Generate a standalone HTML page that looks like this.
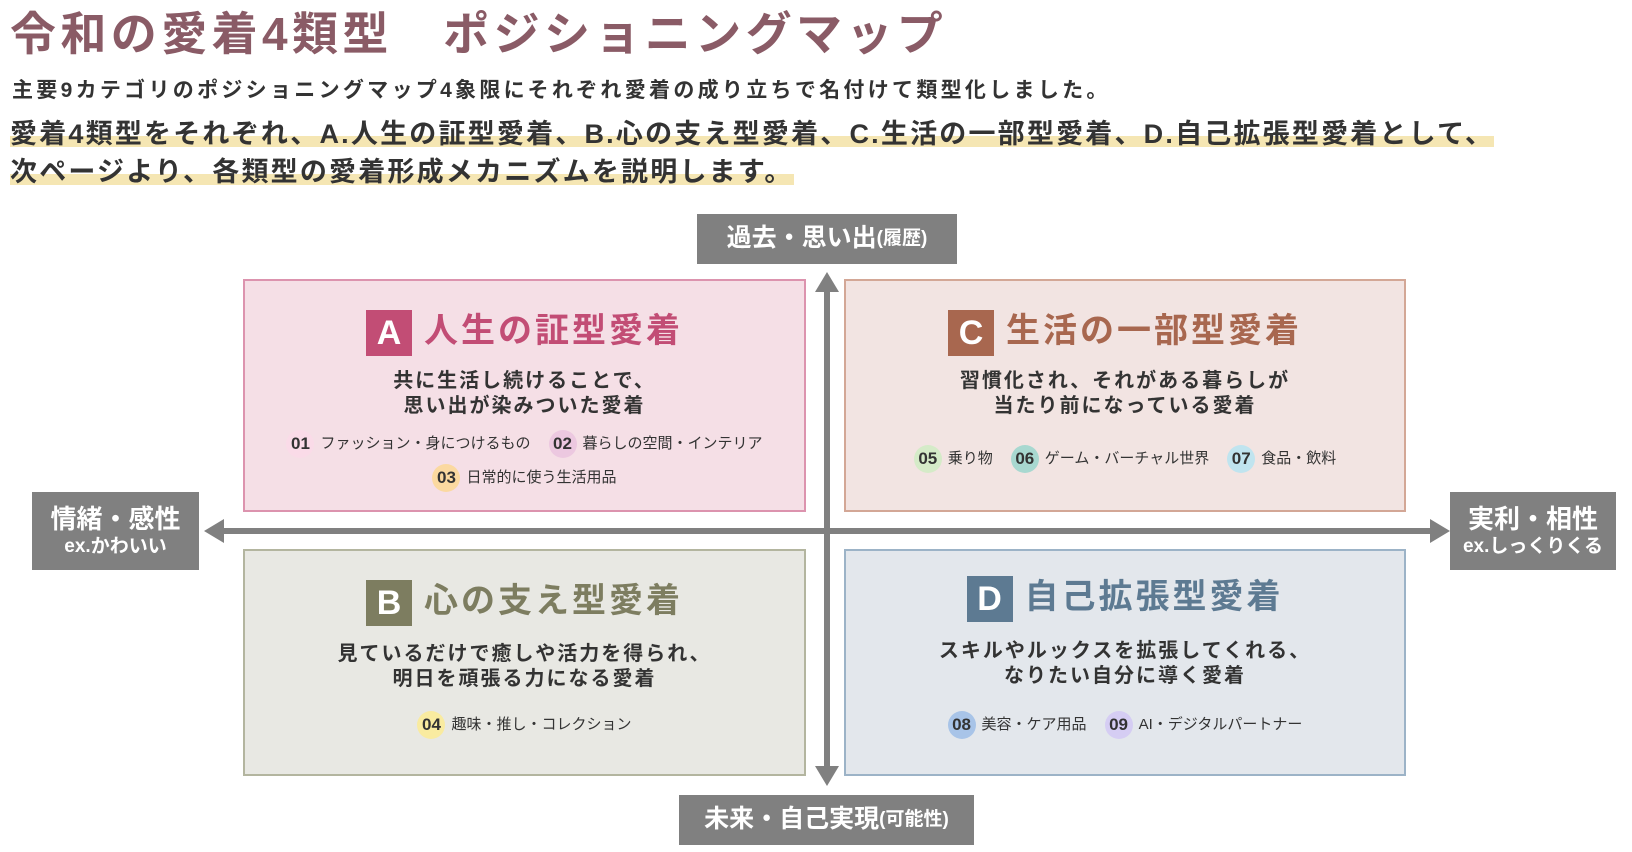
<!DOCTYPE html>
<html><head><meta charset="utf-8"><style>
body{margin:0;width:1632px;height:852px;background:#fff;position:relative;overflow:hidden;font-family:"Liberation Sans","Noto Sans CJK JP",sans-serif;color:#333}
.a{position:absolute}
.t{left:10px;top:-2px;font-size:46px;font-weight:bold;color:#8a5b66;white-space:nowrap;letter-spacing:4.4px}
.l1{left:12px;top:74px;font-size:21px;font-weight:bold;white-space:nowrap;letter-spacing:3.3px}
.hl{font-size:27px;font-weight:bold;white-space:nowrap;left:10px;letter-spacing:2.2px;background:linear-gradient(transparent 62%,#f5e6b3 62%,#f5e6b3 90%,transparent 90%)}
.lab{background:#808080;color:#fff;font-weight:bold;text-align:center;display:flex;flex-direction:column;justify-content:center;align-items:center;line-height:1.25}
.box{box-sizing:border-box;border:2px solid}
.ttl{width:100%;text-align:center;font-size:34px;font-weight:bold;white-space:nowrap;letter-spacing:3px}
.bd{display:inline-block;color:#fff;font-size:34px;width:46px;height:46px;line-height:46px;text-align:center;vertical-align:middle;margin-right:12px;letter-spacing:0}
.ds{width:100%;text-align:center;font-size:20px;font-weight:bold;line-height:25px;letter-spacing:2px}
.it{width:100%;text-align:center;font-size:15px;white-space:nowrap}
.c{display:inline-block;width:28px;height:28px;border-radius:50%;line-height:28px;text-align:center;font-size:17px;font-weight:bold;margin-right:6px;vertical-align:middle}
.g{margin-right:18px}
.sm{font-size:19px}
</style></head><body>
<div class="a t">令和の愛着4類型　ポジショニングマップ</div>
<div class="a l1">主要9カテゴリのポジショニングマップ4象限にそれぞれ愛着の成り立ちで名付けて類型化しました。</div>
<div class="a hl" style="top:112px">愛着4類型をそれぞれ、A.人生の証型愛着、B.心の支え型愛着、C.生活の一部型愛着、D.自己拡張型愛着として、</div>
<div class="a hl" style="top:150px">次ページより、各類型の愛着形成メカニズムを説明します。</div>

<svg class="a" style="left:0;top:0" width="1632" height="852">
<line x1="827" y1="290" x2="827" y2="768" stroke="#808080" stroke-width="6"/>
<polygon points="815,292 839,292 827,272" fill="#808080"/>
<polygon points="815,766 839,766 827,786" fill="#808080"/>
<line x1="222" y1="531" x2="1432" y2="531" stroke="#808080" stroke-width="6"/>
<polygon points="224,519 224,543 204,531" fill="#808080"/>
<polygon points="1430,519 1430,543 1450,531" fill="#808080"/>
</svg>

<div class="a lab" style="left:697px;top:214px;width:260px;height:50px;font-size:25px;flex-direction:row">過去・思い出<span class="sm">(履歴)</span></div>
<div class="a lab" style="left:679px;top:795px;width:295px;height:50px;font-size:25px;flex-direction:row">未来・自己実現<span class="sm">(可能性)</span></div>
<div class="a lab" style="left:32px;top:492px;width:167px;height:78px;font-size:26px">情緒・感性<span style="font-size:19px">ex.かわいい</span></div>
<div class="a lab" style="left:1450px;top:492px;width:166px;height:78px;font-size:26px">実利・相性<span style="font-size:19px">ex.しっくりくる</span></div>

<div class="a box" style="left:243px;top:279px;width:563px;height:233px;background:#f5dfe6;border-color:#dc93ae">
 <div class="a ttl" style="top:22px;color:#c24d75"><span class="bd" style="background:#c24d75">A</span>人生の証型愛着</div>
 <div class="a ds" style="top:88px">共に生活し続けることで、<br>思い出が染みついた愛着</div>
 <div class="a it" style="top:149px"><span class="c" style="background:#fadbe8">01</span><span class="g">ファッション・身につけるもの</span><span class="c" style="background:#ecc8e0">02</span>暮らしの空間・インテリア</div>
 <div class="a it" style="top:183px"><span class="c" style="background:#fbd9a0">03</span>日常的に使う生活用品</div>
</div>

<div class="a box" style="left:844px;top:279px;width:562px;height:233px;background:#f2e4e2;border-color:#d3a796">
 <div class="a ttl" style="top:22px;color:#a8674f"><span class="bd" style="background:#a8674f">C</span>生活の一部型愛着</div>
 <div class="a ds" style="top:88px">習慣化され、それがある暮らしが<br>当たり前になっている愛着</div>
 <div class="a it" style="top:164px"><span class="c" style="background:#d5ebc8">05</span><span class="g">乗り物</span><span class="c" style="background:#a8d8d0">06</span><span class="g">ゲーム・バーチャル世界</span><span class="c" style="background:#c0e4ef">07</span>食品・飲料</div>
</div>

<div class="a box" style="left:243px;top:549px;width:563px;height:227px;background:#e8e8e3;border-color:#b3b59f">
 <div class="a ttl" style="top:22px;color:#7d7d60"><span class="bd" style="background:#7d7d60">B</span>心の支え型愛着</div>
 <div class="a ds" style="top:91px">見ているだけで癒しや活力を得られ、<br>明日を頑張る力になる愛着</div>
 <div class="a it" style="top:160px"><span class="c" style="background:#f9eba0">04</span>趣味・推し・コレクション</div>
</div>

<div class="a box" style="left:844px;top:549px;width:562px;height:227px;background:#e3e7ec;border-color:#9cb3c7">
 <div class="a ttl" style="top:18px;color:#5d7a92"><span class="bd" style="background:#5d7a92">D</span>自己拡張型愛着</div>
 <div class="a ds" style="top:88px">スキルやルックスを拡張してくれる、<br>なりたい自分に導く愛着</div>
 <div class="a it" style="top:160px"><span class="c" style="background:#a8c4e8">08</span><span class="g">美容・ケア用品</span><span class="c" style="background:#d5cdf3">09</span>AI・デジタルパートナー</div>
</div>
</body></html>
